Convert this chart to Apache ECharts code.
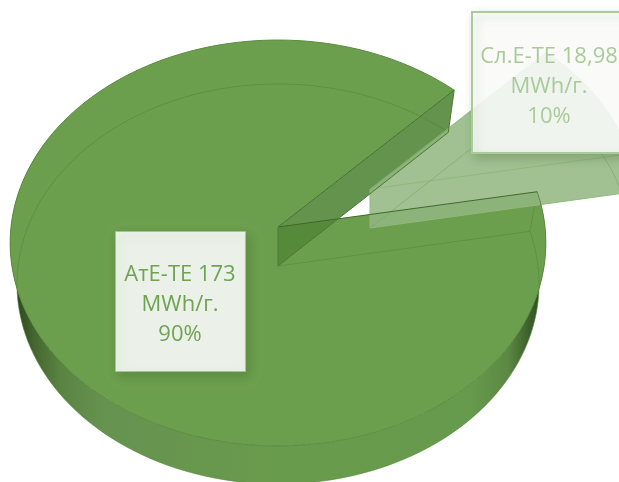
<!DOCTYPE html>
<html>
<head>
<meta charset="utf-8">
<style>html,body{margin:0;padding:0;background:#fff}#chart{width:619px;height:482px}</style>
<script src="https://cdn.jsdelivr.net/npm/echarts@6/dist/echarts.min.js"></script>
</head>
<body>
<div id="chart"></div>
<script>
// Annual energy by source
const sliceNames = ['Сл.Е-ТЕ', 'АтЕ-ТЕ'];
const sliceValues = [18.98, 173];
const sliceValueText = ['18,98', '173'];
const unitText = 'MWh/г.';
const firstSliceAngle = 44.2;

// Tilted disc: apex and radii of the upper and lower rims, with a perspective factor
const upperRim = { ax: 278, ay: 227, R: 267, S: 201.7, p: 0.0788 };
const lowerRim = { ax: 278, ay: 266, R: 260, S: 198.4, p: 0.09 };
const explode = [[92, -38], [0, 0]];

const total = sliceValues.reduce((a, b) => a + b, 0);
const spans = [];
sliceValues.reduce((start, v) => {
  const end = start + v / total * 360;
  spans.push([start, end]);
  return end;
}, firstSliceAngle);

function rimPoint(rim, deg, off) {
  const t = deg * Math.PI / 180, u = Math.sin(t), v = -Math.cos(t), w = 1 - rim.p * v;
  return [rim.ax + off[0] + rim.R * u / w, rim.ay + off[1] + rim.S * v / w];
}
function arc(rim, a, b, off) {
  const pts = [], n = Math.max(2, Math.ceil(Math.abs(b - a) / 2));
  for (let i = 0; i <= n; i++) pts.push(rimPoint(rim, a + (b - a) * i / n, off));
  return pts;
}
const apex = (rim, off) => [rim.ax + off[0], rim.ay + off[1]];

const poly = (points, style, z2) => ({ type: 'polygon', shape: { points }, style, z2, silent: true });
const line = (points, stroke, lineWidth, z2) => ({
  type: 'polyline', shape: { points }, style: { fill: null, stroke, lineWidth }, z2, silent: true
});

function labelBox(x, y, w, h, stroke, strokeWidth) {
  return {
    type: 'rect', shape: { x, y, width: w, height: h }, z2: 30, silent: true,
    style: {
      fill: 'rgba(255,255,255,0.88)', stroke, lineWidth: strokeWidth,
      shadowBlur: 10, shadowOffsetX: 3, shadowOffsetY: 4, shadowColor: 'rgba(40,70,25,0.25)'
    }
  };
}
function labelText(i, x, y, fill) {
  const pct = Math.round(sliceValues[i] / total * 100);
  return {
    type: 'text', z2: 31, silent: true, x, y,
    style: {
      text: sliceNames[i] + ' ' + sliceValueText[i] + '\n' + unitText + '\n' + pct + '%',
      fill, font: '22px "Open Sans"', align: 'center', verticalAlign: 'middle', lineHeight: 30
    }
  };
}

function renderMain(i) {
  const [a, b] = spans[i], off = explode[i];
  const upper = arc(upperRim, a, b, off), lower = arc(lowerRim, a, b, off);
  const A = apex(upperRim, off), B = apex(lowerRim, off);
  const wallFill = new echarts.graphic.LinearGradient(18, 0, 545, 0, [
    { offset: 0, color: '#2e4a1f' }, { offset: 0.03, color: '#44662f' },
    { offset: 0.08, color: '#5a8342' }, { offset: 0.16, color: '#669250' },
    { offset: 0.5, color: '#699b4c' }, { offset: 0.86, color: '#669a4c' },
    { offset: 0.93, color: '#5b8843' }, { offset: 0.97, color: '#3e5f2b' },
    { offset: 1, color: '#2e4a1f' }
  ], true);
  const wallUpper = arc(upperRim, a, 300, off), wallLower = arc(lowerRim, 300, a, off);
  const cutEnd = [upper[upper.length - 1], lower[lower.length - 1]];
  const cutStart = [upper[0], lower[0]];
  const seeThrough = 'rgba(84,134,58,0.6)';
  return [
    poly(wallUpper.concat(wallLower), { fill: wallFill }, 1),
    poly([A].concat(upper), { fill: '#6c9f4d' }, 2),
    // cut face turned towards the viewer
    poly([A, cutEnd[0], cutEnd[1], B], { fill: 'rgba(82,135,56,0.9)' }, 3),
    // rims and edges seen through the disc
    line(lower, seeThrough, 1, 4),
    line([B, cutStart[1]], '#5e9143', 1, 4),
    line([cutStart[0], cutStart[1]], '#5e9143', 1, 4),
    // outlines in front of the exploded slice
    line(upper, '#5b8c40', 1, 20),
    line([A, cutStart[0]], '#3f6b2a', 1, 20),
    line([A, cutEnd[0]], '#44702e', 1, 20),
    line([A, B], '#4c7a34', 1, 20),
    line([B, cutEnd[1]], '#4c7a34', 1, 20),
    line([cutEnd[0], cutEnd[1]], '#4c7a34', 1, 20),
    labelBox(115.5, 231.5, 130, 140, '#a4c593', 1),
    labelText(i, 180, 304.5, '#6fa354')
  ];
}

function renderExploded(i) {
  const [a, b] = spans[i], off = explode[i];
  const upper = arc(upperRim, a, b, off), lower = arc(lowerRim, a, b, off);
  const A = apex(upperRim, off), B = apex(lowerRim, off);
  const edge = '#8fb97b', faint = 'rgba(125,170,105,0.7)';
  const hull = [A].concat(upper, [lower[lower.length - 1], B]);
  return [
    poly(hull, { fill: 'rgba(145,183,128,0.86)' }, 10),
    line([A, upper[upper.length - 1]], edge, 1, 11),
    line([A, upper[0]], faint, 1, 11),
    line([A, B], edge, 1, 11),
    line([B, lower[lower.length - 1]], edge, 1, 11),
    line([B, lower[0]], faint, 1, 11),
    line(lower, faint, 1, 11),
    line(upper, faint, 1, 11),
    labelBox(472, 12, 160, 141, '#a9cb97', 2),
    labelText(i, 549, 86.5, '#a9cb9a')
  ];
}

const chart = echarts.init(document.getElementById('chart'), null, { renderer: 'canvas' });
chart.setOption({
  animation: false,
  backgroundColor: '#ffffff',
  series: [{
    type: 'custom',
    coordinateSystem: 'none',
    silent: true,
    clip: false,
    data: sliceNames.map((name, i) => ({ name, value: sliceValues[i] })),
    renderItem(params) {
      const i = params.dataIndex;
      const children = i === 0 ? renderExploded(i) : renderMain(i);
      return { type: 'group', children };
    }
  }]
});
</script>
</body>
</html>
